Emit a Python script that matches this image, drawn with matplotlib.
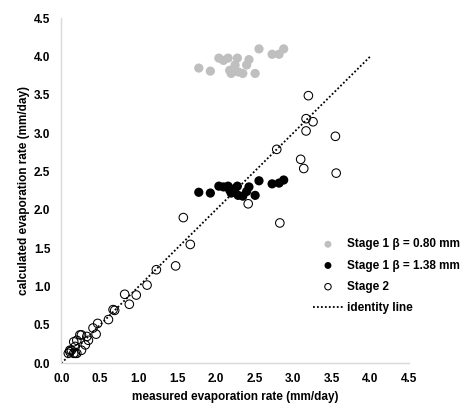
import matplotlib
matplotlib.use('Agg')
from matplotlib import pyplot as plt

plt.rcParams['font.family'] = ['Liberation Sans', 'DejaVu Sans']
plt.rcParams['font.weight'] = 'bold'

# stage 1 points share the measured values
stage1_measured = [1.78, 1.93, 2.04, 2.10, 2.16, 2.28, 2.43, 2.56, 2.73, 2.82, 2.88,
                   2.18, 2.20, 2.29, 2.35, 2.51, 2.25, 2.40]
stage1_b080 = [3.85, 3.81, 3.98, 3.95, 3.98, 3.98, 3.96, 4.10, 4.03, 4.03, 4.10,
               3.82, 3.78, 3.80, 3.78, 3.78, 3.89, 3.89]
stage1_b138 = [2.23, 2.22, 2.31, 2.30, 2.31, 2.31, 2.30, 2.38, 2.34, 2.35, 2.39,
               2.26, 2.22, 2.19, 2.18, 2.19, 2.28, 2.24]

stage2_measured = [3.20, 3.17, 3.26, 3.17, 3.55, 2.79, 3.10, 3.14, 3.56, 2.42, 2.83,
                   1.58, 1.67, 1.48, 1.23, 1.11, 0.97, 0.82, 0.88, 0.69, 0.67, 0.61,
                   0.47, 0.41, 0.45, 0.33, 0.26, 0.31, 0.20, 0.18, 0.13, 0.11, 0.16,
                   0.20, 0.09, 0.35, 0.24, 0.16, 0.26, 0.11, 0.18]
stage2_calc = [3.49, 3.19, 3.15, 3.03, 2.96, 2.79, 2.66, 2.54, 2.48, 2.08, 1.83,
               1.90, 1.55, 1.27, 1.22, 1.02, 0.89, 0.90, 0.77, 0.69, 0.70, 0.57,
               0.52, 0.46, 0.38, 0.35, 0.37, 0.24, 0.30, 0.22, 0.17, 0.15, 0.13,
               0.13, 0.13, 0.30, 0.37, 0.28, 0.17, 0.17, 0.13]

identity = [0, 4.0]

fig = plt.figure(figsize=(4.65, 4.05), dpi=100)
ax = fig.add_axes([0.132, 0.103, 0.747, 0.852])

ax.scatter(stage1_measured, stage1_b080, s=44, color='#BFBFBF', edgecolors='none',
           label='Stage 1 \u03b2 = 0.80 mm', zorder=3)
ax.scatter(stage1_measured, stage1_b138, s=44, color='black', edgecolors='none',
           label='Stage 1 \u03b2 = 1.38 mm', zorder=3)
ax.scatter(stage2_measured, stage2_calc, s=38, facecolors='none', edgecolors='black',
           linewidths=0.75, label='Stage 2', zorder=3)
ax.plot(identity, identity, color='black', linestyle=(0, (1, 1.2)), lw=1.3,
        label='identity line', zorder=2)

ax.set_xlim(0, 4.5)
ax.set_ylim(0, 4.5)
ax.set_xticks([i * 0.5 for i in range(10)])
ax.set_yticks([i * 0.5 for i in range(10)])
ax.set_xticklabels(['%.1f' % (i * 0.5) for i in range(10)])
ax.set_yticklabels(['%.1f' % (i * 0.5) for i in range(10)])
ax.tick_params(axis='both', length=0, labelsize=8.5)
ax.tick_params(axis='x', pad=7)
ax.tick_params(axis='y', pad=8)

for side in ['top', 'right']:
    ax.spines[side].set_visible(False)
for side in ['left', 'bottom']:
    ax.spines[side].set_color('#D9D9D9')
    ax.spines[side].set_linewidth(1.0)

ax.set_xlabel('measured evaporation rate (mm/day)', fontsize=8.5, fontweight='bold', labelpad=4)
ax.set_ylabel('calculated evaporation rate (mm/day)', fontsize=8.5, fontweight='bold', labelpad=3)

ax.legend(loc='upper left', bbox_to_anchor=(0.725, 0.362), frameon=False,
          borderpad=0, borderaxespad=0, handlelength=2.5, handletextpad=0.35,
          labelspacing=0.78, markerscale=0.75, prop={'size': 8.5, 'weight': 'bold'})

plt.savefig('out.png', dpi=100)
